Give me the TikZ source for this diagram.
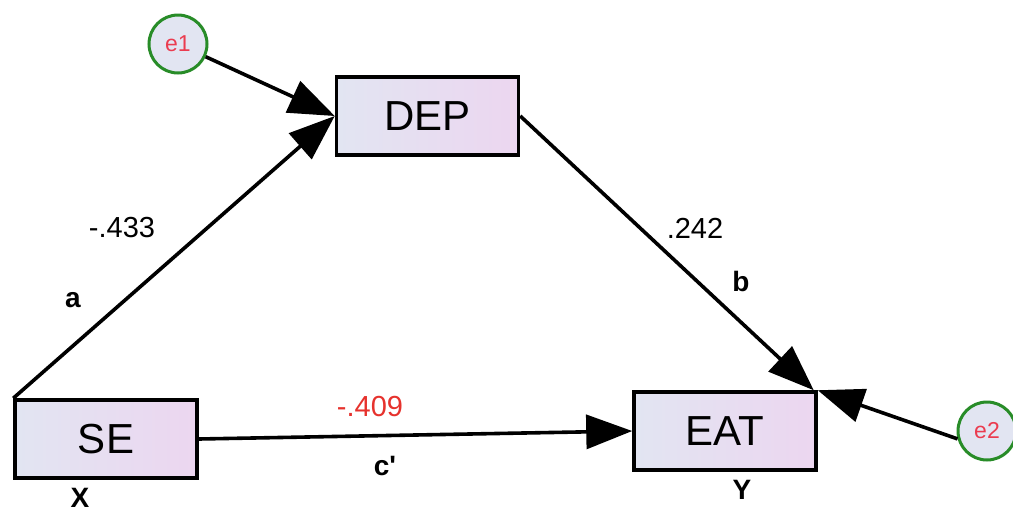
\documentclass[tikz,border=0pt]{standalone}
\usepackage{fontspec}
\setmainfont{Liberation Sans}
\usetikzlibrary{arrows.meta,shadings}
\definecolor{boxL}{RGB}{226,229,242}
\definecolor{boxR}{RGB}{236,214,240}
\definecolor{errgreen}{RGB}{40,140,40}
\definecolor{errred}{RGB}{235,60,80}
\definecolor{coefred}{RGB}{230,50,45}
\tikzset{
  var/.style={draw=black, line width=3.5pt, left color=boxL, right color=boxR,
    minimum width=182pt, minimum height=78pt, inner sep=0pt,
    font=\fontsize{42}{42}\selectfont},
  err/.style={circle, draw=errgreen, line width=3pt, fill=boxL,
    minimum size=58pt, inner sep=0pt, text=errred, font=\fontsize{23}{23}\selectfont},
  path/.style={line width=3.6pt, -{Triangle[length=46pt,width=34pt]}},
  coef/.style={font=\fontsize{29}{29}\selectfont, inner sep=0pt},
  lab/.style={font=\bfseries\fontsize{28}{28}\selectfont, inner sep=0pt}
}
\begin{document}
\begin{tikzpicture}[x=1pt,y=-1pt]
\useasboundingbox (0,0) rectangle (1013,512);
\node[var] (DEP) at (427.5,116) {DEP};
\node[var] (SE) at (106,439) {SE};
\node[var] (EAT) at (725,431) {EAT};
\node[err] (e1) at (178,44) {e1};
\node[err] (e2) at (987,431) {e2};
\draw[path] (e1) -- (DEP.west);
\draw[path] (SE.north west) -- (DEP.west);
\draw[path] (DEP.east) -- ([xshift=-4pt]EAT.north east);
\draw[path] (e2.195) -- (EAT.north east);
\draw[path] (SE.east) -- (EAT.west);
\node[coef] (ca) at (122,228) {-.433};
\node[lab] (la) at (73,300) {a};
\node[coef] (cb) at (695,228) {.242};
\node[lab] (lb) at (741,281) {b};
\node[coef, text=coefred] (cc) at (370,407) {-.409};
\node[lab] (lc) at (385,466) {c\textquotesingle};
\node[lab] (lx) at (80,498) {X};
\node[lab] (ly) at (742,490) {Y};
\end{tikzpicture}
\end{document}
